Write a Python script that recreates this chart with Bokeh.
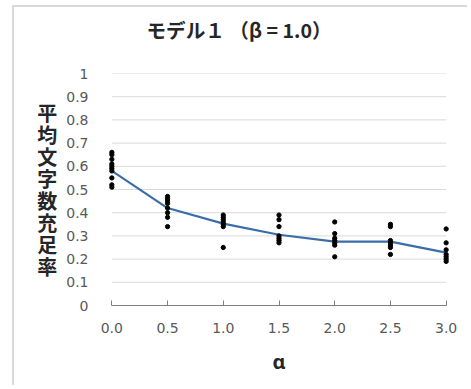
from bokeh.plotting import figure
from bokeh.models import Range1d, FixedTicker, Title
from bokeh.embed import file_html
from bokeh.resources import INLINE

alpha = [0.0, 0.5, 1.0, 1.5, 2.0, 2.5, 3.0]
mean_rate = [0.58, 0.42, 0.353, 0.305, 0.275, 0.275, 0.228]
samples = [
    [0.66, 0.65, 0.63, 0.61, 0.60, 0.59, 0.58, 0.55, 0.52, 0.51],
    [0.47, 0.46, 0.45, 0.44, 0.42, 0.40, 0.38, 0.34],
    [0.39, 0.38, 0.37, 0.36, 0.35, 0.34, 0.25],
    [0.39, 0.37, 0.34, 0.30, 0.29, 0.28, 0.27],
    [0.36, 0.31, 0.29, 0.28, 0.27, 0.26, 0.21],
    [0.35, 0.34, 0.28, 0.27, 0.26, 0.25, 0.22],
    [0.33, 0.27, 0.24, 0.22, 0.21, 0.20, 0.19],
]
y_ticks = [0.0, 0.1, 0.2, 0.3, 0.4, 0.5, 0.6, 0.7, 0.8, 0.9, 1.0]
y_tick_labels = ["0", "0.1", "0.2", "0.3", "0.4", "0.5", "0.6", "0.7", "0.8", "0.9", "1"]
x_tick_labels = ["0.0", "0.5", "1.0", "1.5", "2.0", "2.5", "3.0"]
title_text = "モデル１ （β = 1.0）"
y_title = "平均文字数充足率"
x_title = "α"

W, H = 455, 380
p = figure(width=W, height=H, output_backend="svg", toolbar_location=None,
           x_range=Range1d(-0.03, 3.03), y_range=Range1d(0, 1),
           min_border_left=94, min_border_right=20, min_border_top=66, min_border_bottom=82)
p.styles = {"border-left": "2px solid #d9d9d9", "border-top": "2px solid #d9d9d9",
            "margin-left": "12px", "margin-top": "5px"}
p.outline_line_color = None
p.xgrid.visible = False
p.ygrid.visible = False

# trailing empty line keeps the title well above the plot area
t = Title(text=title_text + "\n", align="left", offset=38, standoff=2,
          text_font="Noto Sans CJK JP", text_font_style="bold", text_font_size="19.6px",
          text_color="#262626")
p.add_layout(t, "above")

# gridlines restricted to the data x extent
gx0 = [min(alpha)] * len(y_ticks)
gx1 = [max(alpha)] * len(y_ticks)
p.segment(x0=gx0, y0=y_ticks, x1=gx1, y1=y_ticks, line_color="#d9d9d9", line_width=1)

xs, ys = [], []
for a, vals in zip(alpha, samples):
    xs += [a] * len(vals)
    ys += vals
p.line(alpha, mean_rate, line_color="#3A6EA8", line_width=2.2)
p.scatter(xs, ys, size=4.3, color="black")

p.xaxis.ticker = FixedTicker(ticks=alpha)
p.xaxis.major_label_overrides = {a: l for a, l in zip(alpha, x_tick_labels)}
p.xaxis.bounds = (min(alpha), max(alpha))
p.xaxis.axis_line_color = "#7f7f7f"
p.xaxis.major_tick_line_color = "#7f7f7f"
p.xaxis.major_tick_in = 5
p.xaxis.major_tick_out = 0
p.xaxis.minor_tick_line_color = None
p.xaxis.major_label_standoff = 17
p.xaxis.major_label_text_font = "DejaVu Sans"
p.xaxis.major_label_text_font_size = "14px"
p.xaxis.major_label_text_color = "#595959"
p.xaxis.axis_label = x_title
p.xaxis.axis_label_text_font = "Noto Sans"
p.xaxis.axis_label_text_font_style = "bold"
p.xaxis.axis_label_text_font_size = "20px"
p.xaxis.axis_label_text_color = "#262626"
p.xaxis.axis_label_standoff = 12

p.yaxis.ticker = FixedTicker(ticks=y_ticks)
p.yaxis.major_label_overrides = {tk: l for tk, l in zip(y_ticks, y_tick_labels)}
p.yaxis.axis_line_color = None
p.yaxis.major_tick_line_color = None
p.yaxis.minor_tick_line_color = None
p.yaxis.major_label_standoff = 14
p.yaxis.major_label_text_font = "DejaVu Sans"
p.yaxis.major_label_text_font_size = "14px"
p.yaxis.major_label_text_color = "#595959"
p.yaxis.axis_label = "\n".join(y_title)
p.yaxis.axis_label_orientation = "horizontal"
p.yaxis.axis_label_standoff = 6
p.yaxis.axis_label_text_font = "Noto Sans CJK JP"
p.yaxis.axis_label_text_font_style = "bold"
p.yaxis.axis_label_text_font_size = "20px"
p.yaxis.axis_label_text_line_height = 0.76
p.yaxis.axis_label_text_color = "#262626"

open("out.html", "w").write(file_html(p, INLINE))
